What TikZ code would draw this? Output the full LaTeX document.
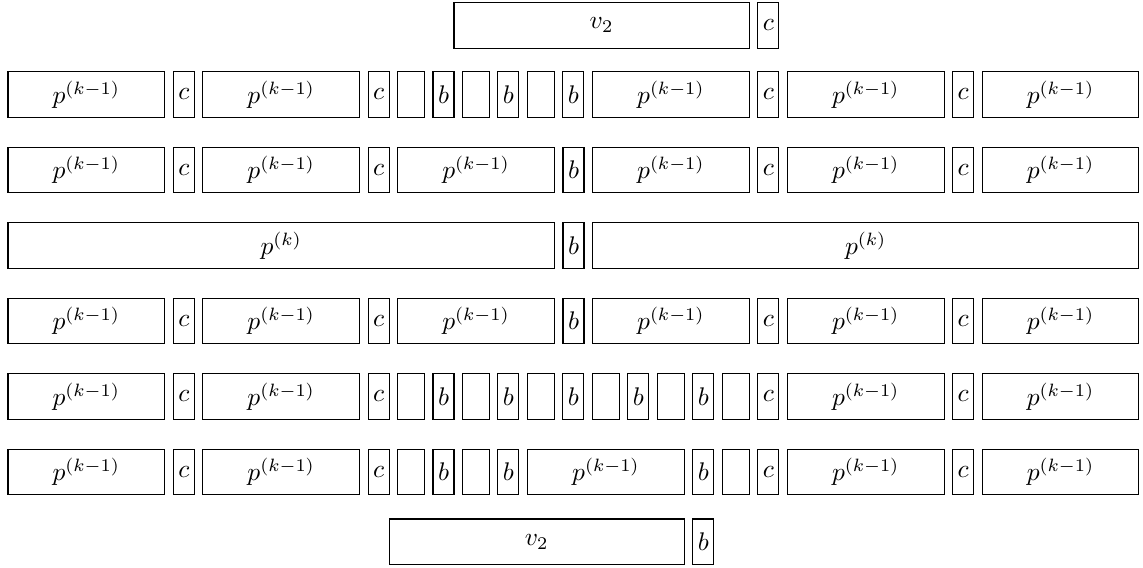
\documentclass[tikz,border=0pt]{standalone}
\def\U{0.392pt}
\tikzset{
  bx/.style={draw, line width=0.4pt, inner sep=0pt, outer sep=0pt, anchor=north west, minimum height=45.4*\U},
  pk1/.style={bx, minimum width=156.7*\U},
  sm/.style={bx, minimum width=21*\U},
  em/.style={bx, minimum width=26.7*\U},
  wide/.style={bx, minimum width=#1*\U},
}
\newcommand\mkP[3]{\node[pk1] (#1) at (#2,#3) {$p^{(k-1)}$};}
\newcommand\mkC[3]{\node[sm] (#1) at (#2,#3) {$c$};}
\newcommand\mkB[3]{\node[sm] (#1) at (#2,#3) {$b$};}
\newcommand\mkE[3]{\node[em] (#1) at (#2,#3) {};}
\begin{document}
\begin{tikzpicture}[x=\U, y=-\U]
\useasboundingbox (0,0) rectangle (1143,568);
% row 0
\node[wide=295.25] (t-v) at (454,2.7) {$v_2$};
\mkC{t-c}{757.85}{2.7}
% row 1
\mkP{a-p0}{8}{71.8}\mkC{a-c0}{173.3}{71.8}
\mkP{a-p1}{202.85}{71.8}\mkC{a-c1}{368.15}{71.8}
\mkE{a-e0}{397.7}{71.8}\mkB{a-b0}{433}{71.8}
\mkE{a-e1}{462.65}{71.8}\mkB{a-b1}{497.95}{71.8}
\mkE{a-e2}{527.6}{71.8}\mkB{a-b2}{562.9}{71.8}
\mkP{a-p3}{592.55}{71.8}\mkC{a-c3}{757.85}{71.8}
\mkP{a-p4}{787.4}{71.8}\mkC{a-c4}{952.7}{71.8}
\mkP{a-p5}{982.25}{71.8}
% row 2
\mkP{b-p0}{8}{147.3}\mkC{b-c0}{173.3}{147.3}
\mkP{b-p1}{202.85}{147.3}\mkC{b-c1}{368.15}{147.3}
\mkP{b-p2}{397.7}{147.3}\mkB{b-b2}{563}{147.3}
\mkP{b-p3}{592.55}{147.3}\mkC{b-c3}{757.85}{147.3}
\mkP{b-p4}{787.4}{147.3}\mkC{b-c4}{952.7}{147.3}
\mkP{b-p5}{982.25}{147.3}
% row 3
\node[wide=546.4] (c-pl) at (8,222.8) {$p^{(k)}$};
\mkB{c-b}{563}{222.8}
\node[wide=546.4] (c-pr) at (592.55,222.8) {$p^{(k)}$};
% row 4
\mkP{d-p0}{8}{298.3}\mkC{d-c0}{173.3}{298.3}
\mkP{d-p1}{202.85}{298.3}\mkC{d-c1}{368.15}{298.3}
\mkP{d-p2}{397.7}{298.3}\mkB{d-b2}{563}{298.3}
\mkP{d-p3}{592.55}{298.3}\mkC{d-c3}{757.85}{298.3}
\mkP{d-p4}{787.4}{298.3}\mkC{d-c4}{952.7}{298.3}
\mkP{d-p5}{982.25}{298.3}
% row 5
\mkP{e-p0}{8}{373.8}\mkC{e-c0}{173.3}{373.8}
\mkP{e-p1}{202.85}{373.8}\mkC{e-c1}{368.15}{373.8}
\mkE{e-e0}{397.7}{373.8}\mkB{e-b0}{433}{373.8}
\mkE{e-e1}{462.65}{373.8}\mkB{e-b1}{497.95}{373.8}
\mkE{e-e2}{527.6}{373.8}\mkB{e-b2}{562.9}{373.8}
\mkE{e-e3}{592.55}{373.8}\mkB{e-b3}{627.85}{373.8}
\mkE{e-e4}{657.5}{373.8}\mkB{e-b4}{692.8}{373.8}
\mkE{e-e5}{722.45}{373.8}\mkC{e-c3}{757.85}{373.8}
\mkP{e-p4}{787.4}{373.8}\mkC{e-c4}{952.7}{373.8}
\mkP{e-p5}{982.25}{373.8}
% row 6
\mkP{f-p0}{8}{449.3}\mkC{f-c0}{173.3}{449.3}
\mkP{f-p1}{202.85}{449.3}\mkC{f-c1}{368.15}{449.3}
\mkE{f-e0}{397.7}{449.3}\mkB{f-b0}{433}{449.3}
\mkE{f-e1}{462.65}{449.3}\mkB{f-b1}{497.95}{449.3}
\mkP{f-pm}{527.6}{449.3}\mkB{f-b2}{692.8}{449.3}
\mkE{f-e2}{722.45}{449.3}\mkC{f-c3}{757.85}{449.3}
\mkP{f-p4}{787.4}{449.3}\mkC{f-c4}{952.7}{449.3}
\mkP{f-p5}{982.25}{449.3}
% row 7
\node[wide=295.1] (g-v) at (389.15,519) {$v_2$};
\mkB{g-b}{692.8}{519}
\end{tikzpicture}
\end{document}
